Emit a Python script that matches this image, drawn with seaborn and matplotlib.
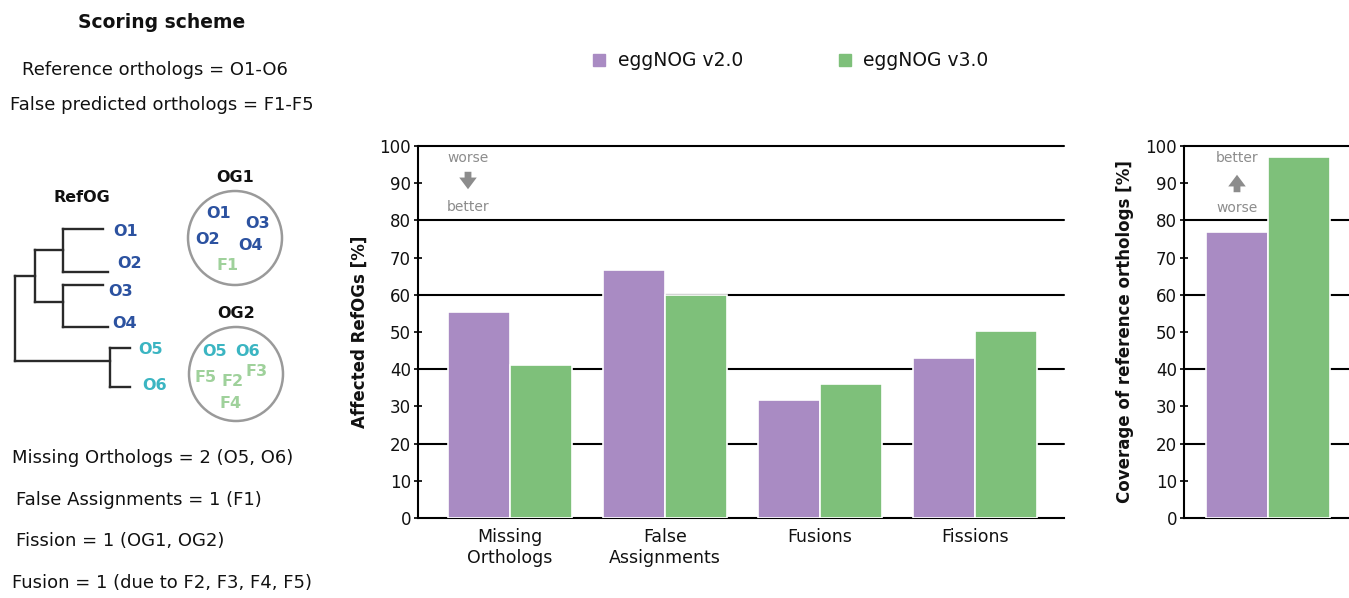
import matplotlib
matplotlib.use("Agg")
import matplotlib.pyplot as plt
import seaborn as sns
import pandas as pd
from matplotlib.patches import Circle
from matplotlib.lines import Line2D

# ---------------- data ----------------
categories = ["Missing\nOrthologs", "False\nAssignments", "Fusions", "Fissions"]
versions = ["eggNOG v2.0", "eggNOG v3.0"]
v2_affected = [55.5, 66.8, 31.6, 43.0]
v3_affected = [41.2, 60.0, 35.9, 50.3]
coverage_v2 = [76.8]
coverage_v3 = [97.1]
y_ticks = list(range(0, 101, 10))
grid_levels = [20, 40, 60, 80, 100]
colors = ["#a98bc3", "#7ec07a"]

ref_text = ["Reference orthologs = O1-O6", "False predicted orthologs = F1-F5"]
score_text = ["Missing Orthologs = 2 (O5, O6)", "False Assignments = 1 (F1)",
              "Fission = 1 (OG1, OG2)", "Fusion = 1 (due to F2, F3, F4, F5)"]

sns.set_style("ticks")
plt.rcParams["font.family"] = ["DejaVu Sans"]
plt.rcParams["text.color"] = "#111111"
plt.rcParams["axes.labelcolor"] = "#111111"
plt.rcParams["xtick.color"] = "#111111"
plt.rcParams["ytick.color"] = "#111111"

W, H = 1349, 598
fig = plt.figure(figsize=(W / 100, H / 100), dpi=100)

# background overlay for the scheme (pixel coordinates)
bg = fig.add_axes([0, 0, 1, 1], zorder=0)
bg.set_xlim(0, W)
bg.set_ylim(H, 0)
bg.axis("off")

dark_blue = "#2c52a0"
teal = "#3bb5c2"
light_green = "#9fd19b"
gray = "#8c8c8c"

bg.text(162, 22, "Scoring scheme", fontsize=13.5, fontweight="bold", ha="center", va="center")
bg.text(22, 70, ref_text[0], fontsize=13, ha="left", va="center")
bg.text(10, 105, ref_text[1], fontsize=13, ha="left", va="center")
for (x, y), t in zip([(12, 458), (16, 500), (16, 541), (12, 583)], score_text):
    bg.text(x, y, t, fontsize=13, ha="left", va="center")

# tree
tree_segments = [
    ((15, 15), (276, 361)),
    ((15, 35), (276, 276)),
    ((35, 35), (250, 302)),
    ((35, 63), (250, 250)),
    ((35, 63), (302, 302)),
    ((63, 63), (229, 272)),
    ((63, 103), (229, 229)),
    ((63, 108), (272, 272)),
    ((63, 63), (285, 327)),
    ((63, 103), (285, 285)),
    ((63, 108), (327, 327)),
    ((15, 110), (361, 361)),
    ((110, 110), (348, 387)),
    ((110, 130), (348, 348)),
    ((110, 130), (387, 387)),
]
for xs, ys in tree_segments:
    bg.plot(xs, ys, color="#2a2a2a", lw=1.7, solid_capstyle="projecting")

bg.text(82, 198, "RefOG", fontsize=11.5, fontweight="bold", ha="center", va="center")
leaf_labels = [("O1", 113, 231, dark_blue), ("O2", 117, 263, dark_blue),
               ("O3", 108, 292, dark_blue), ("O4", 112, 324, dark_blue),
               ("O5", 138, 350, teal), ("O6", 142, 385, teal)]
for t, x, y, c in leaf_labels:
    bg.text(x, y, t, fontsize=11.5, color=c, ha="left", va="center", fontweight="bold")

for cx, cy, lab in [(235, 238, "OG1"), (236, 374, "OG2")]:
    bg.add_patch(Circle((cx, cy), 47, fill=False, edgecolor="#9a9a9a", lw=1.8))
    bg.text(cx, cy - 61, lab, fontsize=11.5, fontweight="bold", ha="center", va="center")

og_members = [("O1", 219, 214, dark_blue), ("O3", 258, 223, dark_blue),
              ("O2", 208, 240, dark_blue), ("O4", 251, 245, dark_blue),
              ("F1", 228, 266, light_green),
              ("O5", 215, 351, teal), ("O6", 248, 351, teal),
              ("F5", 206, 377, light_green), ("F2", 233, 382, light_green),
              ("F3", 257, 371, light_green), ("F4", 231, 404, light_green)]
for t, x, y, c in og_members:
    bg.text(x, y, t, fontsize=11.5, color=c, ha="center", va="center", fontweight="bold")

# ---------------- main bar chart ----------------
df = pd.DataFrame({
    "category": categories * 2,
    "version": [versions[0]] * len(categories) + [versions[1]] * len(categories),
    "value": v2_affected + v3_affected,
})

ax = fig.add_axes([418 / W, 80 / H, 646 / W, 372 / H], zorder=2)
ax.patch.set_alpha(0)
sns.barplot(data=df, x="category", y="value", hue="version", palette=colors,
            width=0.8, edgecolor="white", linewidth=1.2, ax=ax, legend=False,
            zorder=3, saturation=1)

df2 = pd.DataFrame({"category": [""] * 2, "version": versions,
                    "value": coverage_v2 + coverage_v3})
ax2 = fig.add_axes([1184 / W, 80 / H, 165 / W, 372 / H], zorder=2)
ax2.patch.set_alpha(0)
sns.barplot(data=df2, x="category", y="value", hue="version", palette=colors,
            width=0.8, edgecolor="white", linewidth=1.2, ax=ax2, legend=False,
            zorder=3, saturation=1)

for a in (ax, ax2):
    a.set_ylim(0, 100)
    a.set_yticks(y_ticks)
    a.tick_params(axis="y", labelsize=12, direction="inout", length=6, width=1.3, pad=2)
    a.tick_params(axis="x", labelsize=12.5, length=0, pad=7)
    for lv in grid_levels:
        a.axhline(lv, color="black", lw=1.5, zorder=1, clip_on=False)
    for s in ("top", "right"):
        a.spines[s].set_visible(False)
    for s in ("left", "bottom"):
        a.spines[s].set_linewidth(1.5)
        a.spines[s].set_color("black")
    a.set_xlabel("")

ax.set_xlim(-0.594, 3.574)
ax2.set_xlim(-0.542, 0.523)
ax2.set_xticks([])
ax.set_ylabel("Affected RefOGs [%]", fontsize=12, fontweight="bold", labelpad=8)
ax2.set_ylabel("Coverage of reference orthologs [%]", fontsize=12, fontweight="bold", labelpad=8)

# worse/better annotations
arrow_style = dict(arrowstyle="simple,head_length=0.6,head_width=0.9,tail_width=0.35",
                   color=gray, mutation_scale=14, lw=0)
bg.text(468, 158, "worse", fontsize=10, color=gray, ha="center", va="center")
bg.annotate("", xy=(468, 192), xytext=(468, 169), arrowprops=arrow_style)
bg.text(468, 207, "better", fontsize=10, color=gray, ha="center", va="center")

bg.text(1237, 158, "better", fontsize=10, color=gray, ha="center", va="center")
bg.annotate("", xy=(1237, 172), xytext=(1237, 195), arrowprops=arrow_style)
bg.text(1237, 208, "worse", fontsize=10, color=gray, ha="center", va="center")

# legend
handles = [Line2D([], [], marker="s", ls="none", markersize=9, color=c) for c in colors]
fig.legend(handles, versions, loc="center left", bbox_to_anchor=(575 / W, 1 - 61 / H),
           ncol=2, frameon=False, fontsize=13.5, handlelength=0.8, handletextpad=0.6,
           columnspacing=5.0)

fig.savefig("out.png", dpi=100)
